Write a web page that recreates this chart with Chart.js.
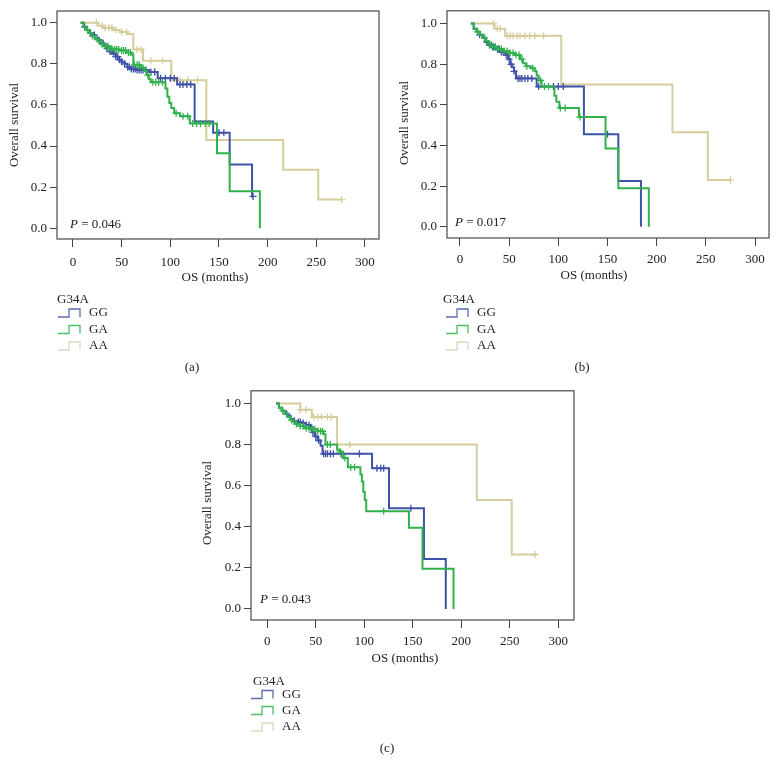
<!DOCTYPE html>
<html>
<head>
<meta charset="utf-8">
<script src="https://cdn.jsdelivr.net/npm/chart.js@4.4.0/dist/chart.umd.min.js"></script>
<style>
  html, body { margin: 0; padding: 0; background: #fff; }
  #page { position: relative; width: 778px; height: 764px; overflow: hidden; }
  canvas { position: absolute; }
</style>
</head>
<body>
<div id="page">
  <canvas id="panel-a" width="389" height="380" style="left:0px;top:0px"></canvas>
  <canvas id="panel-b" width="389" height="380" style="left:389px;top:0px"></canvas>
  <canvas id="panel-c" width="400" height="384" style="left:190px;top:380px"></canvas>
</div>
<script>
// ---- data (months / survival probability) ----
const xTicks = [0, 50, 100, 150, 200, 250, 300];
const yTicks = [0, 0.2, 0.4, 0.6, 0.8, 1.0];
const groups = ['GG', 'GA', 'AA'];

// panel (a)
const aGGTime = [8, 11, 14, 17, 20, 23, 26, 29, 32, 35, 38, 41, 44, 47, 50, 53, 56, 59, 65, 78, 87, 107, 125, 144, 161, 184, 185];
const aGGSurv = [1.0, 0.98, 0.965, 0.95, 0.94, 0.925, 0.915, 0.90, 0.89, 0.875, 0.86, 0.85, 0.835, 0.82, 0.81, 0.80, 0.785, 0.775, 0.77, 0.76, 0.73, 0.70, 0.52, 0.465, 0.31, 0.155, 0.155];
const aGGCens = [12, 18, 22, 27, 31, 35, 38, 40, 42, 44, 46, 48, 50, 53, 56, 58, 60, 62, 64, 66, 68, 70, 72, 75, 80, 84, 90, 95, 100, 104, 110, 113, 117, 121, 150, 155, 185];
const aGATime = [8, 11, 14, 17, 20, 23, 26, 29, 33, 37, 42, 48, 55, 60, 62, 70, 74, 76, 78, 80, 95, 97, 99, 101, 104, 110, 120, 148, 161, 192];
const aGASurv = [1.0, 0.98, 0.965, 0.95, 0.935, 0.92, 0.91, 0.895, 0.885, 0.875, 0.87, 0.865, 0.855, 0.845, 0.795, 0.78, 0.765, 0.745, 0.725, 0.71, 0.68, 0.64, 0.61, 0.585, 0.56, 0.545, 0.51, 0.365, 0.18, 0.0];
const aGACens = [15, 20, 25, 30, 33, 36, 38, 40, 43, 45, 47, 50, 52, 54, 57, 59, 63, 66, 68, 72, 77, 82, 85, 88, 92, 106, 113, 118, 123, 127, 131, 136, 140];
const aAATime = [7, 26, 31, 41, 48, 56, 62, 72, 101, 137, 216, 252, 276];
const aAASurv = [1.0, 0.985, 0.975, 0.965, 0.955, 0.945, 0.87, 0.815, 0.72, 0.43, 0.285, 0.14, 0.14];
const aAACens = [24, 30, 33, 37, 40, 44, 50, 55, 66, 70, 80, 92, 110, 118, 128, 276];

// panel (b)
const bGGTime = [11, 14, 17, 20, 23, 26, 29, 33, 38, 42, 46, 49, 51, 53, 55, 57, 78, 126, 161, 184];
const bGGSurv = [1.0, 0.975, 0.96, 0.945, 0.93, 0.91, 0.895, 0.885, 0.875, 0.86, 0.845, 0.825, 0.80, 0.785, 0.765, 0.73, 0.69, 0.455, 0.225, 0.0];
const bGGCens = [20, 27, 30, 32, 34, 36, 38, 40, 42, 44, 47, 50, 52, 55, 59, 61, 63, 66, 69, 73, 80, 95, 100, 105, 150];
const bGATime = [11, 14, 17, 20, 23, 26, 29, 33, 38, 43, 50, 56, 61, 64, 67, 72, 76, 78, 80, 83, 96, 98, 101, 121, 148, 161, 192];
const bGASurv = [1.0, 0.975, 0.96, 0.945, 0.93, 0.915, 0.90, 0.885, 0.875, 0.865, 0.855, 0.845, 0.825, 0.805, 0.79, 0.78, 0.765, 0.745, 0.72, 0.69, 0.645, 0.615, 0.585, 0.54, 0.385, 0.19, 0.0];
const bGACens = [18, 25, 30, 33, 36, 39, 42, 45, 48, 51, 54, 57, 60, 63, 68, 74, 82, 86, 90, 102, 107, 122];
const bAATime = [11, 35, 46, 103, 216, 252, 275];
const bAASurv = [1.0, 0.975, 0.94, 0.70, 0.465, 0.23, 0.23];
const bAACens = [34, 38, 41, 48, 51, 54, 58, 61, 66, 71, 76, 85, 275];

// panel (c)
const cGGTime = [9, 12, 15, 18, 21, 24, 27, 31, 35, 40, 44, 46, 49, 52, 55, 57, 108, 125.5, 161.5, 184];
const cGGSurv = [1.0, 0.98, 0.965, 0.95, 0.94, 0.925, 0.915, 0.91, 0.905, 0.895, 0.885, 0.86, 0.84, 0.82, 0.795, 0.755, 0.685, 0.49, 0.243, 0.0];
const cGGCens = [20, 28, 32, 34, 37, 40, 43, 45, 47, 50, 53, 58, 60, 62, 65, 68, 76, 95, 113, 117, 120, 148];
const cGATime = [9, 12, 15, 18, 21, 24, 27, 30, 34, 38, 45, 52, 58, 60, 72, 75, 78, 83, 96, 97.5, 99, 100.5, 102, 146, 160, 192];
const cGASurv = [1.0, 0.98, 0.965, 0.95, 0.935, 0.92, 0.91, 0.9, 0.89, 0.88, 0.875, 0.865, 0.85, 0.80, 0.775, 0.765, 0.735, 0.69, 0.655, 0.62, 0.57, 0.53, 0.475, 0.395, 0.195, 0.0];
const cGACens = [16, 25, 30, 34, 37, 40, 43, 46, 49, 52, 55, 57, 62, 65, 75, 80, 86, 90, 120];
const cAATime = [9, 34, 46, 72, 216, 252, 276];
const cAASurv = [1.0, 0.97, 0.934, 0.80, 0.53, 0.265, 0.265];
const cAACens = [34, 40, 48, 52, 56, 62, 66, 85, 276];

const pValues = ['0.046', '0.017', '0.043'];

// ---- styles ----
const FONT = '"Liberation Serif", "Times New Roman", serif';
const colors = { GG: '#3d52a8', GA: '#30b14c', AA: '#d5cd9b' };
const iconColors = { GG: '#5a6cb4', GA: '#4cbf68', AA: '#dcd8bd' };
const drawOrder = { GG: 2, GA: 1, AA: 3 };

function survAt(times, surv, t) {
  let s = surv[0];
  for (let i = 0; i < times.length; i++) {
    if (times[i] <= t) s = surv[i];
  }
  return s;
}

function curveSets(g, times, surv, cens) {
  const line = {
    label: g,
    data: times.map((t, i) => ({ x: t, y: surv[i] })),
    showLine: true,
    stepped: 'before',
    borderColor: colors[g],
    borderWidth: 2,
    pointRadius: 0,
    order: drawOrder[g],
  };
  const marks = {
    label: g + ' censored',
    data: cens.map(t => ({ x: t, y: survAt(times, surv, t) })),
    showLine: false,
    pointStyle: 'cross',
    pointRadius: 3.5,
    borderColor: colors[g],
    borderWidth: 1.3,
    order: drawOrder[g],
  };
  return [line, marks];
}

// text and box drawing for each panel
const panelText = {
  id: 'panelText',
  afterDraw(chart, args, o) {
    const ctx = chart.ctx;
    const a = chart.chartArea;
    const ox = o.left, oy = o.top;
    ctx.save();
    ctx.strokeStyle = '#4a4a4a';
    ctx.lineWidth = 1.2;
    ctx.strokeRect(a.left, a.top, a.right - a.left, a.bottom - a.top);

    ctx.fillStyle = '#222';
    ctx.font = '13px ' + FONT;
    ctx.textBaseline = 'middle';

    // y title
    ctx.save();
    ctx.translate(o.yTitle[0] - ox, o.yTitle[1] - oy);
    ctx.rotate(-Math.PI / 2);
    ctx.textAlign = 'center';
    ctx.fillText('Overall survival', 0, 0);
    ctx.restore();

    // x title
    ctx.textAlign = 'center';
    ctx.fillText('OS (months)', o.xTitle[0] - ox, o.xTitle[1] - oy);

    // p value
    ctx.textAlign = 'left';
    ctx.font = 'italic 13px ' + FONT;
    ctx.fillText('P', o.pPos[0] - ox, o.pPos[1] - oy);
    const pw = ctx.measureText('P').width;
    ctx.font = '13px ' + FONT;
    ctx.fillText(' = ' + o.p, o.pPos[0] - ox + pw, o.pPos[1] - oy);

    // legend
    ctx.fillText('G34A', o.legTitle[0] - ox, o.legTitle[1] - oy);
    groups.forEach((g, i) => {
      const y = o.legRows[i] - oy;
      const x0 = o.iconX - ox;
      ctx.strokeStyle = iconColors[g];
      ctx.lineWidth = 1.3;
      ctx.beginPath();
      ctx.moveTo(x0, y + 4);
      ctx.lineTo(x0 + 11, y + 4);
      ctx.lineTo(x0 + 11, y - 4);
      ctx.lineTo(x0 + 22, y - 4);
      ctx.lineTo(x0 + 22, y + 4);
      ctx.stroke();
      ctx.fillStyle = '#222';
      ctx.fillText(g, o.labelX - ox, y);
    });

    // caption
    ctx.textAlign = 'center';
    ctx.fillText(o.caption, o.capPos[0] - ox, o.capPos[1] - oy);
    ctx.restore();
  }
};

const panels = [
  {
    id: 'panel-a', left: 0, top: 0, pad: { left: 0, top: 11, right: 10, bottom: 91 }, yw: 57,
    xMin: -16.4, xMax: 314.4, yMin: -0.052, yMax: 1.057, xPad: 8,
    sets: [['GG', aGGTime, aGGSurv, aGGCens], ['GA', aGATime, aGASurv, aGACens], ['AA', aAATime, aAASurv, aAACens]],
    text: { left: 0, top: 0, p: pValues[0], caption: '(a)', yTitle: [15, 125], xTitle: [215, 278], pPos: [70, 225],
            legTitle: [57, 300], iconX: 58, labelX: 89, legRows: [313, 329.5, 346], capPos: [192, 368] }
  },
  {
    id: 'panel-b', left: 389, top: 0, pad: { left: 0, top: 8, right: 9, bottom: 92 }, yw: 58,
    xMin: -13.2, xMax: 314.2, yMin: -0.055, yMax: 1.063, xPad: 6,
    sets: [['GG', bGGTime, bGGSurv, bGGCens], ['GA', bGATime, bGASurv, bGACens], ['AA', bAATime, bAASurv, bAACens]],
    text: { left: 389, top: 0, p: pValues[1], caption: '(b)', yTitle: [405, 123], xTitle: [594, 276], pPos: [455, 223],
            legTitle: [443, 300], iconX: 446, labelX: 477, legRows: [313, 329.5, 346], capPos: [582, 368] }
  },
  {
    id: 'panel-c', left: 190, top: 380, pad: { left: 0, top: 7, right: 16, bottom: 94 }, yw: 61,
    xMin: -16.8, xMax: 316.2, yMin: -0.054, yMax: 1.062, xPad: 6,
    sets: [['GG', cGGTime, cGGSurv, cGGCens], ['GA', cGATime, cGASurv, cGACens], ['AA', cAATime, cAASurv, cAACens]],
    text: { left: 190, top: 380, p: pValues[2], caption: '(c)', yTitle: [208, 503], xTitle: [405, 659], pPos: [260, 600],
            legTitle: [253, 682], iconX: 251, labelX: 282, legRows: [694.5, 710.5, 727], capPos: [387, 749] }
  }
];

function makePanel(p) {
  const datasets = [];
  p.sets.forEach(s => datasets.push(...curveSets(...s)));
  new Chart(document.getElementById(p.id), {
    type: 'scatter',
    data: { datasets: datasets },
    plugins: [panelText],
    options: {
      responsive: false,
      animation: false,
      layout: { padding: p.pad },
      plugins: {
        legend: { display: false },
        tooltip: { enabled: false },
        panelText: p.text,
      },
      scales: {
        x: {
          type: 'linear', min: p.xMin, max: p.xMax,
          afterBuildTicks: s => { s.ticks = xTicks.map(v => ({ value: v })); },
          afterFit: s => { s.height = 50; },
          grid: { drawOnChartArea: false, drawTicks: true, tickLength: 8, color: '#444' },
          border: { display: false },
          ticks: { padding: p.xPad, color: '#222', font: { family: FONT, size: 13 }, maxRotation: 0, autoSkip: false },
        },
        y: {
          type: 'linear', min: p.yMin, max: p.yMax,
          afterBuildTicks: s => { s.ticks = yTicks.map(v => ({ value: v })); },
          afterFit: s => { s.width = p.yw; },
          grid: { drawOnChartArea: false, drawTicks: true, tickLength: 7, color: '#444' },
          border: { display: false },
          ticks: { padding: 3, color: '#222', font: { family: FONT, size: 13 }, callback: v => v.toFixed(1) },
        },
      },
    },
  });
}

panels.forEach(makePanel);
</script>
</body>
</html>
